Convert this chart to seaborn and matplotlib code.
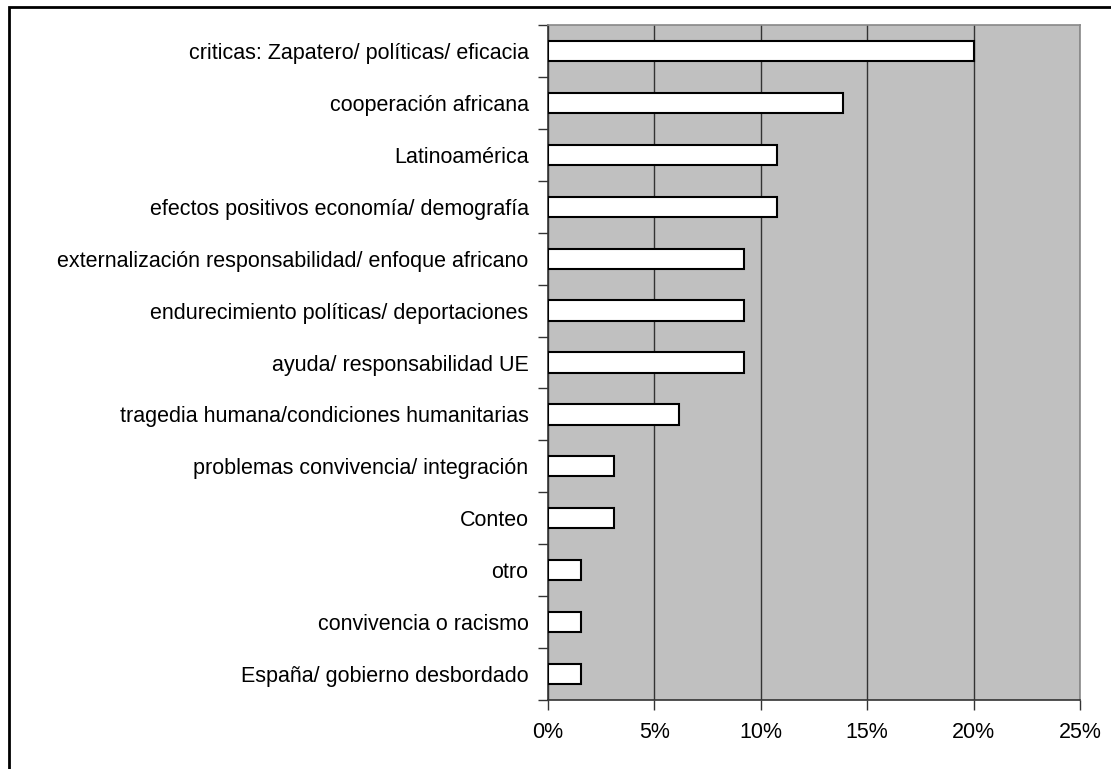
import numpy as np
import pandas as pd
import seaborn as sns
import matplotlib.pyplot as plt
from matplotlib.patches import Rectangle
from matplotlib.ticker import FuncFormatter, FixedLocator

# Categories and shares (fraction of total)
categories = [
    'criticas: Zapatero/ políticas/ eficacia',
    'cooperación africana',
    'Latinoamérica',
    'efectos positivos economía/ demografía',
    'externalización responsabilidad/ enfoque africano',
    'endurecimiento políticas/ deportaciones',
    'ayuda/ responsabilidad UE',
    'tragedia humana/condiciones humanitarias',
    'problemas convivencia/ integración',
    'Conteo',
    'otro',
    'convivencia o racismo',
    'España/ gobierno desbordado',
]
shares = [0.2000, 0.1385, 0.1077, 0.1077, 0.0923, 0.0923, 0.0923,
          0.0615, 0.0308, 0.0308, 0.0154, 0.0154, 0.0154]
x_ticks = [0, 0.05, 0.10, 0.15, 0.20, 0.25]

df = pd.DataFrame({'tema': categories, 'share': shares})

sns.set_style('white')
plt.rcParams['font.family'] = ['Liberation Sans', 'DejaVu Sans']

fig = plt.figure(figsize=(11.11, 7.69), dpi=100)
ax = fig.add_axes([548 / 1111, 1 - 700 / 769, (1080 - 548) / 1111, (700 - 25) / 769])
ax.set_facecolor('#c0c0c0')

sns.barplot(data=df, x='share', y='tema', orient='h', color='white',
            edgecolor='black', linewidth=1.5, width=0.39, ax=ax, zorder=3)

ax.set_xlim(0, 0.25)
ax.set_ylim(len(categories) - 0.5, -0.5)
ax.xaxis.set_major_locator(FixedLocator(x_ticks))
ax.xaxis.set_major_formatter(FuncFormatter(lambda v, p: f'{v * 100:.0f}%'))
ax.grid(axis='x', color='#333333', linewidth=1, zorder=1)
ax.set_axisbelow(True)

# y ticks at category boundaries
ax.set_yticks(np.arange(-0.5, len(categories) + 0.5, 1), minor=True)
ax.tick_params(axis='y', which='major', left=False, length=0, pad=14,
               labelsize=15.5, labelcolor='black')
ax.tick_params(axis='y', which='minor', left=True, length=7, width=1,
               color='#333333', direction='out')
ax.tick_params(axis='x', which='major', bottom=True, length=7, width=1,
               color='#333333', direction='out', pad=9, labelsize=15.5,
               labelcolor='black')
ax.set_xlabel('')
ax.set_ylabel('')

for side in ['left', 'bottom']:
    ax.spines[side].set_color('#333333')
    ax.spines[side].set_linewidth(1.2)
for side in ['top', 'right']:
    ax.spines[side].set_color('#888888')
    ax.spines[side].set_linewidth(1.2)

# outer chart frame
fig.patches.append(Rectangle((9 / 1111, -0.1), 1.2, 1 - 7 / 769 + 0.1,
                             transform=fig.transFigure, fill=False,
                             edgecolor='black', linewidth=2))

fig.savefig('out.png', dpi=100)
